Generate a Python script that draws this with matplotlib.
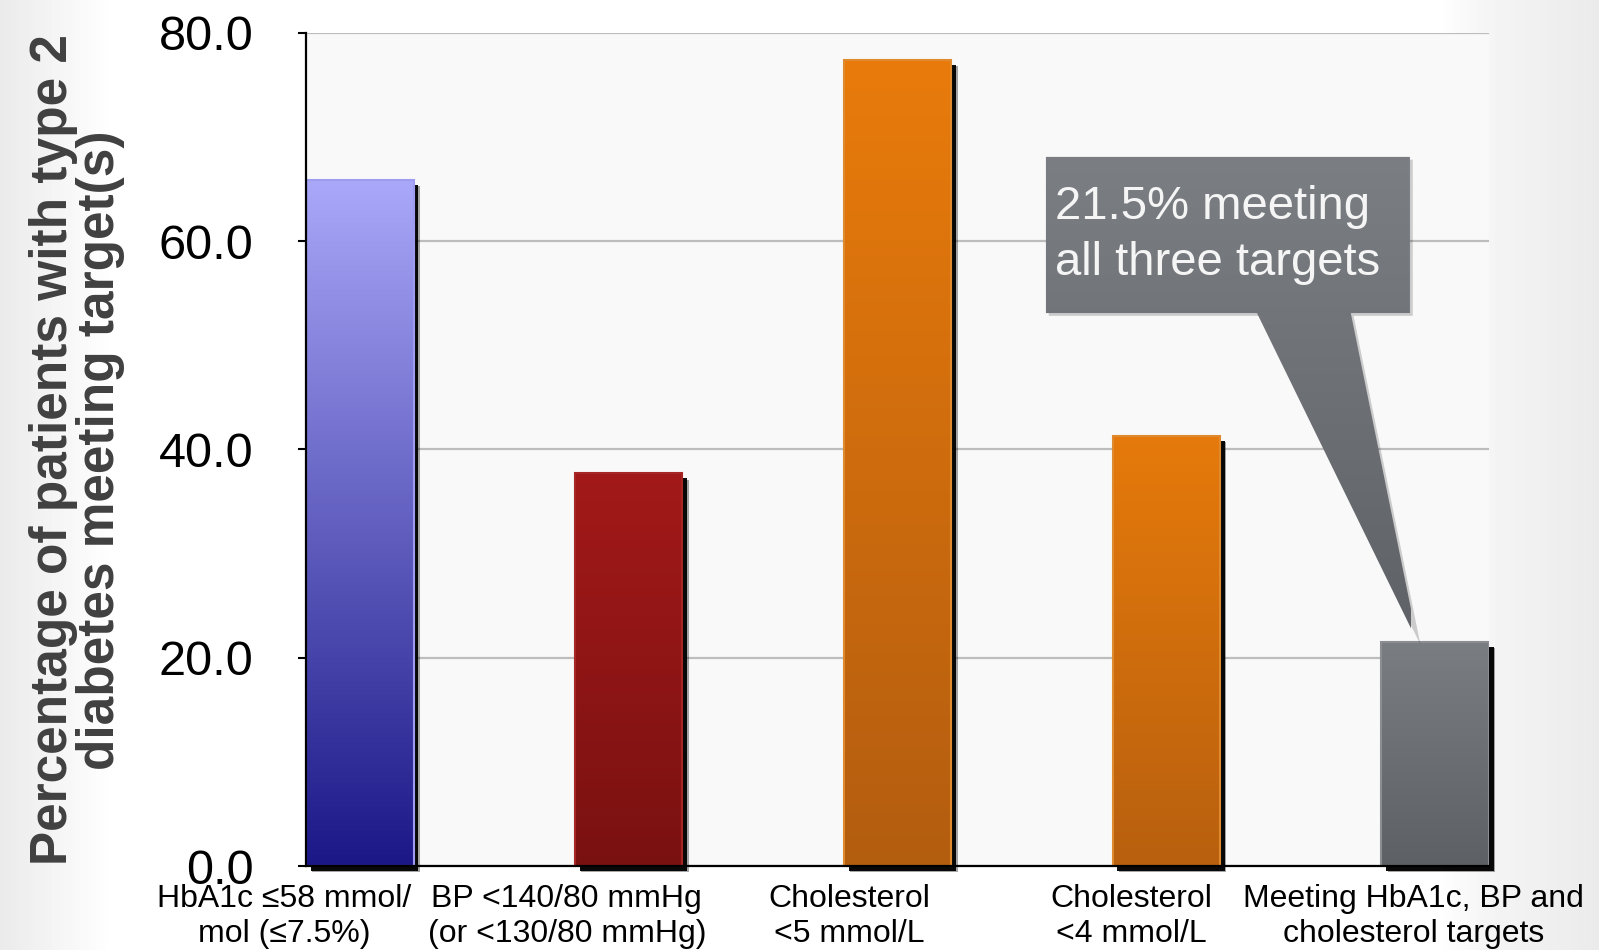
import numpy as np
import matplotlib
matplotlib.use('Agg')
import matplotlib.pyplot as plt
import matplotlib.patheffects as pe
from matplotlib.colors import LinearSegmentedColormap
from matplotlib.patches import Polygon

plt.rcParams['font.family'] = ['Liberation Sans', 'DejaVu Sans']

CATEGORIES = [
    'HbA1c ≤58 mmol/\nmol (≤7.5%)',
    'BP <140/80 mmHg\n(or <130/80 mmHg)',
    'Cholesterol\n<5 mmol/L',
    'Cholesterol\n<4 mmol/L',
    'Meeting HbA1c, BP and\ncholesterol targets',
]
VALUES = [65.9, 37.7, 77.4, 41.3, 21.5]
TOP_COLORS = ['#a9a8f9', '#a31919', '#e97b0b', '#e67a0b', '#7a7e82']
BOTTOM_COLORS = ['#1b1787', '#7a1111', '#b35d10', '#b8600f', '#5d6165']
EDGE_COLORS = ['#9e9cf0', '#a62626', '#e08a30', '#e08a30', '#8a8e92']
YTICKS = [0, 20, 40, 60, 80]
YLABEL = 'Percentage of patients with type 2\ndiabetes meeting target(s)'
CALLOUT = '21.5% meeting\nall three targets'

BAR_WIDTH = 0.4
LABEL_START, LABEL_STEP = -0.28, 1.05

fig = plt.figure(figsize=(15.99, 9.5), dpi=100)

# soft page background: light grey at the edges, white in the middle
bg = fig.add_axes([0, 0, 1, 1], zorder=-10)
xs = np.linspace(0, 1, 400)
shade = np.interp(xs, [0, 0.07, 0.9, 0.93, 1.0], [0.92, 1.0, 1.0, 0.96, 0.92])
bg.imshow(np.tile(shade, (10, 1)), cmap='gray', vmin=0, vmax=1,
          aspect='auto', extent=(0, 1, 0, 1))
bg.set_axis_off()

ax = fig.add_axes([0.1914, 0.0884, 0.7398, 0.8769])
ax.set_facecolor('#f9f9f9')

x = np.arange(len(VALUES))
bars = ax.bar(x, VALUES, BAR_WIDTH, facecolor='none', edgecolor='none',
              zorder=2, clip_on=False)
for bar in bars:
    bar.set_path_effects([
        pe.SimplePatchShadow(offset=(4.5, -4.5), shadow_rgbFace='black', alpha=0.35),
        pe.SimplePatchShadow(offset=(3.5, -3.5), shadow_rgbFace='black', alpha=0.95),
        pe.Normal(),
    ])

# vertical gradient fill for each bar, clipped to the bar outline
grad = np.linspace(0, 1, 256).reshape(-1, 1)
for bar, top, bottom, edge in zip(bars, TOP_COLORS, BOTTOM_COLORS, EDGE_COLORS):
    cmap = LinearSegmentedColormap.from_list('bar', [bottom, top])
    x0, w, h = bar.get_x(), bar.get_width(), bar.get_height()
    im = ax.imshow(grad, cmap=cmap, aspect='auto', origin='lower',
                   extent=(x0, x0 + w, 0, h), zorder=2.5)
    im.set_clip_path(bar)
    ax.bar(x0 + w / 2, h, w, facecolor='none', edgecolor=edge,
           linewidth=1.5, zorder=3)

# callout pointing at the last bar
tip = (x[-1] - 0.065, VALUES[-1])
callout = Polygon([(2.552, 68.1), (3.906, 68.1), (3.906, 53.1), (3.686, 53.1),
                   tip, (3.337, 53.1), (2.552, 53.1)],
                  closed=True, facecolor='none', edgecolor='none', zorder=4)
callout.set_path_effects([
    pe.SimplePatchShadow(offset=(2, -2), shadow_rgbFace='black', alpha=0.18),
    pe.Normal(),
])
ax.add_patch(callout)
cmap = LinearSegmentedColormap.from_list('callout', ['#5e6266', '#7b7f83'])
im = ax.imshow(grad, cmap=cmap, aspect='auto', origin='lower',
               extent=(2.55, 3.91, tip[1], 68.1), zorder=4.5)
im.set_clip_path(callout)
ax.text(2.585, 60.6, CALLOUT, fontsize=34, color='#f5f5f5',
        ha='left', va='center', linespacing=1.35, zorder=5)

ax.set_yticks(YTICKS)
ax.set_yticklabels(['%.1f' % v for v in YTICKS])
ax.tick_params(axis='y', labelsize=35, length=6, width=1.5, pad=32,
               direction='out', colors='black')
ax.grid(axis='y', color='#bdbdbd', linewidth=1.6, zorder=0)
ax.set_axisbelow(True)

# category labels sit on their own, slightly wider spacing than the bars
ax.set_xticks([])
for i, label in enumerate(CATEGORIES):
    ax.annotate(label, xy=(LABEL_START + LABEL_STEP * i, 0),
                xycoords=('data', 'axes fraction'), xytext=(0, -13),
                textcoords='offset points', ha='center', va='top',
                fontsize=23, linespacing=1.2, annotation_clip=False)

ax.set_xlim(-0.2, 4.2)
ax.set_ylim(0, 80)

for side in ['top', 'right']:
    ax.spines[side].set_visible(False)
for side in ['left', 'bottom']:
    ax.spines[side].set_linewidth(1.6)
    ax.spines[side].set_color('black')
    ax.spines[side].set_zorder(3.5)

fig.text(77 / 1599, 1 - 450 / 950, YLABEL, rotation=90, ha='center',
         va='center', multialignment='center', fontsize=37,
         fontweight='bold', color='#404040', linespacing=0.95)

fig.savefig('out.png', dpi=100)
